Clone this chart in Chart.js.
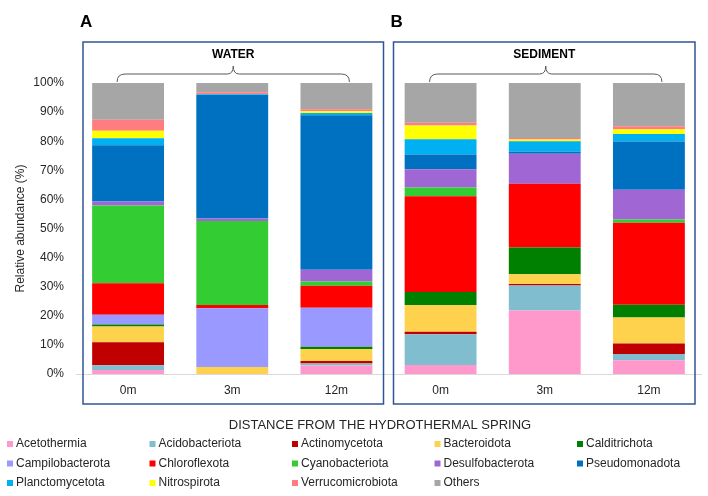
<!DOCTYPE html>
<html>
<head>
<meta charset="utf-8">
<script src="https://cdn.jsdelivr.net/npm/chart.js@4.4.1/dist/chart.umd.min.js"></script>
<style>
  body { margin: 0; background: #fff; }
</style>
</head>
<body>
<canvas id="abundanceChart" width="708" height="496"></canvas>
<script>
// Water 0m, 3m, 12m | Sediment 0m, 3m, 12m
var distances = ['0m', '3m', '12m', '0m', '3m', '12m'];
var panels = ['WATER', 'SEDIMENT'];
var panelLetters = ['A', 'B'];
var yTicks = [0, 10, 20, 30, 40, 50, 60, 70, 80, 90, 100];

var acetothermia      = [1.4, 0, 2.9, 3.1, 21.8, 4.7];
var acidobacteriota   = [1.6, 0, 0.7, 10.6, 8.6, 2.2];
var actinomycetota    = [7.9, 0, 0.9, 0.8, 0.5, 3.6];
var bacteroidota      = [5.4, 2.4, 4.1, 9.2, 3.4, 8.9];
var calditrichota     = [0.7, 0, 0.8, 4.5, 9.2, 4.4];
var campilobacterota  = [3.4, 20.2, 13.4, 0, 0, 0];
var chloroflexota     = [10.8, 1.1, 7.5, 32.9, 21.9, 28.2];
var cyanobacteriota   = [26.7, 28.9, 1.5, 3.0, 0, 1.1];
var desulfobacterota  = [1.4, 0.8, 4.0, 6.3, 10.3, 10.2];
var pseudomonadota    = [19.3, 42.5, 53.1, 5.0, 0.7, 16.6];
var planctomycetota   = [2.4, 0.2, 0.8, 5.3, 3.6, 2.6];
var nitrospirota      = [2.6, 0, 0.6, 4.7, 0.6, 1.6];
var verrucomicrobiota = [3.8, 0.7, 0.7, 0.9, 0.5, 1.0];
var others            = [12.6, 3.2, 9.0, 13.7, 18.9, 15.0];

var phylumNames = ['Acetothermia', 'Acidobacteriota', 'Actinomycetota', 'Bacteroidota', 'Calditrichota',
  'Campilobacterota', 'Chloroflexota', 'Cyanobacteriota', 'Desulfobacterota', 'Pseudomonadota',
  'Planctomycetota', 'Nitrospirota', 'Verrucomicrobiota', 'Others'];
var phylumValues = [acetothermia, acidobacteriota, actinomycetota, bacteroidota, calditrichota,
  campilobacterota, chloroflexota, cyanobacteriota, desulfobacterota, pseudomonadota,
  planctomycetota, nitrospirota, verrucomicrobiota, others];
var phylumColors = ['#FF99CC', '#80BECF', '#C00000', '#FFD24D', '#008000',
  '#9999FF', '#FF0000', '#33CC33', '#A066D3', '#0070C0',
  '#00B0F0', '#FFFF00', '#FF7C80', '#A6A6A6'];

var FONT = "'Liberation Sans', Arial, sans-serif";

var datasets = phylumNames.map(function (name, i) {
    return {
        label: name,
        data: phylumValues[i],
        backgroundColor: phylumColors[i],
        borderWidth: 0,
        barPercentage: 0.69,
        categoryPercentage: 1
    };
});

function drawBrace(ctx, x1, x2, yEnd, yLine, yTip) {
    var mid = (x1 + x2) / 2;
    ctx.beginPath();
    ctx.moveTo(x1, yEnd);
    ctx.quadraticCurveTo(x1, yLine, x1 + 8, yLine);
    ctx.lineTo(mid - 6, yLine);
    ctx.quadraticCurveTo(mid, yLine, mid, yTip);
    ctx.quadraticCurveTo(mid, yLine, mid + 6, yLine);
    ctx.lineTo(x2 - 8, yLine);
    ctx.quadraticCurveTo(x2, yLine, x2, yEnd);
    ctx.stroke();
}

var decorations = {
    id: 'decorations',
    afterDraw: function (chart) {
        var ctx = chart.ctx;
        var x = chart.scales.x;
        var area = chart.chartArea;
        var split = (x.getPixelForValue(2) + x.getPixelForValue(3)) / 2;
        var boxes = [[area.left + 7, split - 5], [split + 5, area.right - 6]];

        ctx.save();
        boxes.forEach(function (b, p) {
            // panel frame
            ctx.strokeStyle = '#2F5597';
            ctx.lineWidth = 1.5;
            ctx.strokeRect(b[0], 42, b[1] - b[0], 362);

            // panel letter
            ctx.fillStyle = '#000';
            ctx.font = 'bold 17px ' + FONT;
            ctx.textAlign = 'left';
            ctx.textBaseline = 'middle';
            ctx.fillText(panelLetters[p], b[0] - 3, 22);

            // header
            ctx.font = 'bold 12px ' + FONT;
            ctx.textAlign = 'center';
            ctx.fillText(panels[p], (b[0] + b[1]) / 2, 55);

            // brace over the three bars
            var c0 = x.getPixelForValue(p * 3);
            var c2 = x.getPixelForValue(p * 3 + 2);
            ctx.strokeStyle = '#595959';
            ctx.lineWidth = 1;
            drawBrace(ctx, c0 - 11, c2 + 13, 82, 74, 66);
        });

        // x axis title
        ctx.fillStyle = '#262626';
        ctx.font = '13px ' + FONT;
        ctx.textAlign = 'center';
        ctx.textBaseline = 'middle';
        ctx.fillText('DISTANCE FROM THE HYDROTHERMAL SPRING', 380, 425);

        // legend grid
        ctx.font = '12px ' + FONT;
        ctx.textAlign = 'left';
        phylumNames.forEach(function (name, i) {
            var lx = 7 + (i % 5) * 142.5;
            var ly = 444 + Math.floor(i / 5) * 19.5;
            ctx.fillStyle = phylumColors[i];
            ctx.fillRect(lx, ly - 3, 6, 6);
            ctx.fillStyle = '#262626';
            ctx.fillText(name, lx + 9, ly);
        });
        ctx.restore();
    }
};

var ctx = document.getElementById('abundanceChart').getContext('2d');
var chart = new Chart(ctx, {
    type: 'bar',
    data: {
        labels: distances,
        datasets: datasets
    },
    options: {
        responsive: false,
        animation: false,
        layout: {
            padding: { top: 83, right: 7, bottom: 100, left: 0 }
        },
        plugins: {
            legend: { display: false },
            tooltip: { enabled: false }
        },
        scales: {
            x: {
                stacked: true,
                grid: { display: false, drawTicks: false },
                border: { display: true, color: '#D9D9D9', width: 1 },
                ticks: {
                    padding: 9,
                    color: '#262626',
                    font: { family: FONT, size: 12 }
                },
                afterFit: function (s) { s.height = 22; }
            },
            y: {
                stacked: true,
                min: 0,
                max: 100,
                afterBuildTicks: function (s) {
                    s.ticks = yTicks.map(function (v) { return { value: v }; });
                },
                grid: { display: false, drawTicks: false },
                border: { display: false },
                ticks: {
                    padding: 12,
                    color: '#262626',
                    font: { family: FONT, size: 12 },
                    callback: function (v) { return v + '%'; }
                },
                title: {
                    display: true,
                    text: 'Relative abundance (%)',
                    color: '#262626',
                    font: { family: FONT, size: 12 },
                    padding: { top: 13, bottom: 0 }
                },
                afterFit: function (s) { s.width = 76; }
            }
        }
    },
    plugins: [decorations]
});
</script>
</body>
</html>
